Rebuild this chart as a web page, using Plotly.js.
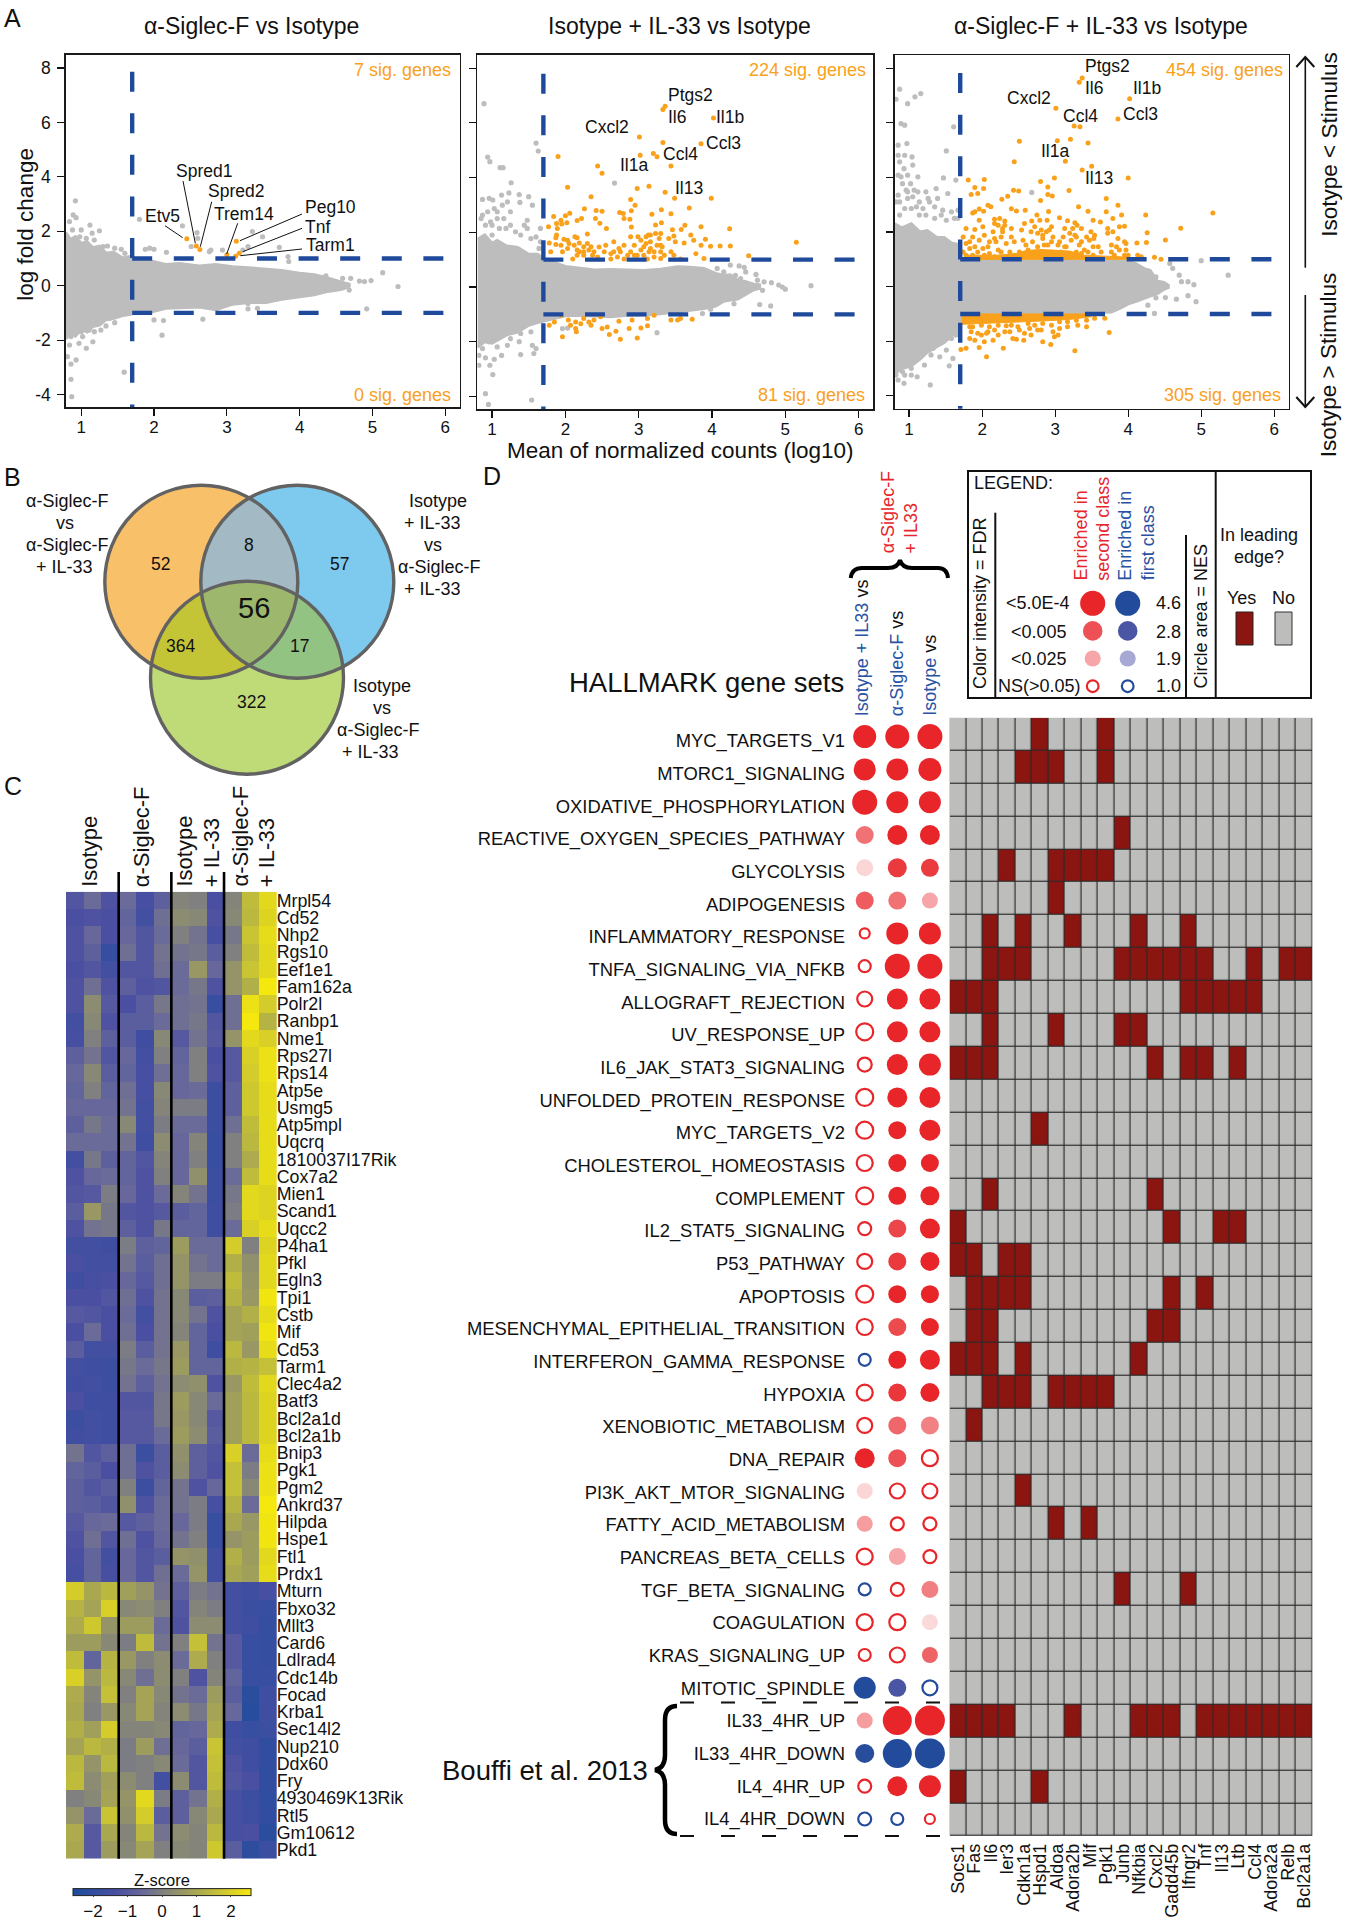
<!DOCTYPE html>
<html><head><meta charset="utf-8">
<script src="https://cdn.plot.ly/plotly-3.0.1.min.js"></script>
<style>html,body{margin:0;padding:0;background:#fff}</style></head>
<body><div id="plot" style="width:1346px;height:1920px"></div>
<script>
// ---------- PANEL A data (mean normalized counts log10, log fold change) ----------
const countCut=1.7, lfcCut=[1,-1];
const a1CloudX=[.79,.85,.92,1.0,1.08,1.16,1.25,1.34,1.45,1.57,1.68,1.8,1.95,2.16,2.35,2.62,2.85,3.08,3.3,3.54,3.75,4.0,4.2,4.36,4.5,4.59,4.68];
const a1CloudUp=[1.95,1.7,1.8,1.55,1.62,1.4,1.45,1.2,1.22,1.02,1.08,.88,.92,.78,.82,.72,.78,.7,.66,.6,.56,.46,.4,.3,.2,.12,.05];
const a1CloudLo=[-1.95,-1.75,-1.85,-1.6,-1.7,-1.5,-1.45,-1.25,-1.2,-1.1,-1.05,-.95,-.98,-.83,-.8,-.78,-.88,-.68,-.62,-.62,-.5,-.4,-.33,-.22,-.17,-.12,-.02];
const a1GrayX=[.92,.89,.93,1.12,1.25,1.15,1.0,.84,1.36,1.46,1.55,1.8,1.88,1.94,2.0,2.17,2.39,2.59,2.51,2.78,2.6,2.76,2.94,3.35,3.49,3.72,3.84,3.85,3.22,3.29,4.36,4.59,4.7,4.82,4.89,4.98,5.14,5.35,4.66,4.68,4.92,3.29,3.29,3.42,2.67,2.0,2.13,2.11,1.59,.86,.93,.86,.87,1.16,1.07,.97,.84,1.18,1.34,1.46,1.27,.86,1.02,.81,.88,.98,1.07,1.18,1.3,1.43,1.6,.86,1.0,1.11,1.25,1.39];
const a1GrayY=[3.12,2.6,2.5,2.23,2.02,1.93,2.05,2.36,1.46,1.38,1.34,2.44,1.34,1.38,1.34,1.23,2.2,1.95,1.44,1.31,1.74,1.25,1.31,1.99,1.8,1.41,1.07,.89,1.31,1.44,.36,.27,.27,.17,.15,.19,.48,-.03,.03,-.16,-.85,-.65,-.85,-.83,-1.23,-1.26,-1.28,-1.82,-3.18,-2.88,-2.73,-3.44,-4.08,-2.06,-2.3,-2.12,-2.18,-1.69,-1.48,-1.36,-1.63,-1.87,-1.87,-2.61,2.05,1.8,1.74,1.68,1.44,1.19,1.19,-1.63,-1.69,-1.63,-1.32,-1.2];
const a1SigX=[2.45,2.58,2.63,3.0,3.13,3.17,3.12];
const a1SigY=[1.73,1.46,1.33,1.14,1.63,1.19,1.08];

const a2CloudX=[.8,.9,1.0,1.07,1.2,1.35,1.5,1.62,1.75,1.85,2.0,2.16,2.4,2.62,2.85,3.07,3.3,3.53,3.7,3.89,4.05,4.16,4.25,4.35,4.45,4.57,4.65];
const a2CloudUp=[1.75,1.9,1.6,1.7,1.5,1.45,1.2,1.2,.95,.9,.75,.7,.62,.64,.62,.6,.65,.74,.72,.68,.5,.42,.45,.25,.2,.1,.08];
const a2CloudLo=[-2.2,-2.0,-2.05,-1.95,-1.75,-1.65,-1.4,-1.3,-1.2,-1.15,-1.05,-1.03,-1.06,-1.09,-1.03,-1.02,-.98,-.91,-.85,-.79,-.7,-.52,-.48,-.44,-.3,-.1,-.05];
const a2GrayX=[.89,.94,.97,1.11,1.15,.87,.96,1.01,1.26,1.23,1.13,1.37,1.5,1.38,1.55,1.6,1.63,2.67,1.03,1.14,1.25,1.07,1.16,1.48,1.44,1.66,.87,1.0,1.25,1.39,1.53,1.66,3.25,4.65,4.8,1.54,.91,.95,1.01,.97,.91,1.03,1.13,1.07,1.39,1.6,1.55,1.57,1.37,1.25,2.03,1.96,5.35,5.0,4.96,4.91,4.81,4.71,4.37,4.44,4.25,4.6,4.62,4.53,4.69,4.46,4.32,4.39,4.07,4.16,3.87,3.98,4.3,.82,.82,.85,.91,.98,1.1,1.19,1.32,1.48,1.6,1.0,.94,1.07,1.21,1.64,.87,.96,1.21,1.39,1.53,.85];
const a2GrayY=[6.7,4.75,4.58,4.36,4.36,3.2,3.24,3.18,3.81,3.44,3.36,3.38,3.3,3.09,2.99,5.26,4.97,3.8,2.87,2.99,2.75,2.5,2.5,2.44,2.26,2.14,2.63,2.26,2.26,1.9,1.77,1.65,-1.67,-.64,-.69,-4.13,-3.9,-4.29,-3.2,-2.86,-2.59,-2.64,-2.5,-2.19,-2.47,-2.25,-2.13,-2.43,-2.0,-1.89,-1.5,-1.52,.05,-.08,0,.07,.16,.19,.77,.72,.8,.46,.25,.07,-.12,.55,.43,.31,.68,.55,-.97,-.81,-.61,-2.5,-2.86,2.5,2.26,2.38,2.14,2.14,2.02,2.14,1.83,1.9,2.75,2.75,3.11,1.41,-2.25,-2.0,-2.13,-1.7,-1.64,-1.89];
const a2SigX=[3.36,3.33,4.02,3.01,3.33,3.85,3.02,3.2,3.25,1.9,2.44,2.5,3.44,2.03,2.98,3.14,3.36,3.49,3.99,2.35,2.89,2.95,3.69,2.26,2.42,2.5,2.74,2.79,2.9,3.31,3.18,3.44,1.84,2.06,2.0,1.94,2.22,2.41,2.8,2.88,2.47,1.88,1.95,2.02,1.77,1.89,2.16,2.56,2.9,3.31,3.23,3.63,3.58,3.85,4.24,3.23,3.46,3.13,3.3,1.88,2.89,2.99,3.16,3.71,3.48,1.87,1.98,2.03,2.13,2.3,2.16,2.3,2.25,2.19,2.05,1.87,1.78,2.03,2.16,2.46,2.55,2.66,2.8,2.94,3.1,3.25,3.41,3.5,3.62,3.75,3.85,3.91,3.98,4.11,4.25,5.15,4.5,3.78,3.89,2.16,2.37,2.53,2.71,2.85,2.98,3.14,3.3,3.44,3.57,2.1,2.62,2.8,3.12,3.3,1.8,2.39,2.62,2.75,2.94,3.07,3.21,3.35,2.44,2.35,3.07,3.16,3.3,2.19,1.94,2.25,2.66,2.73,2.89,3.03,3.21,3.32,3.48,3.16,3.28,3.1,3.03,2.25,2.32,2.12,1.96,
 1.78,1.85,1.94,1.96,2.04,2.14,2.15,2.25,2.32,2.39,2.48,2.5,2.57,2.6,2.69,2.73,2.75,2.87,2.91,2.98,3.03,3.12,3.12,3.44,3.53,3.73,3.57,3.21,2.07,2.21,2.14,2.35];
const a2SigY=[6.61,6.49,6.18,5.48,5.28,5.24,4.82,4.88,4.76,4.77,4.42,4.16,4.42,3.65,3.6,3.68,3.46,3.24,3.24,3.3,3.2,2.99,2.89,2.86,2.8,2.77,2.72,2.69,2.79,2.82,2.66,2.68,2.58,2.7,2.6,2.44,2.5,2.5,2.5,2.48,2.33,2.32,2.3,2.35,2.2,2.14,2.43,2.14,2.19,2.35,2.27,2.26,2.1,2.2,2.13,1.96,2.09,1.9,1.96,1.9,1.84,1.84,1.9,1.9,1.86,1.8,1.75,1.71,1.84,1.94,1.8,1.59,1.47,1.61,1.59,1.55,1.61,1.41,1.35,1.46,1.53,1.65,1.53,1.53,1.59,1.53,1.77,1.65,1.61,1.71,1.53,1.75,1.49,1.5,1.5,1.64,1.14,1.22,1.04,1.16,1.16,1.29,1.1,1.16,1.16,1.29,1.29,1.29,1.02,1.02,1.02,1.02,1.02,1.04,1.29,1.29,1.22,1.29,1.16,1.16,1.1,1.16,1.1,1.47,1.47,1.41,1.53,1.29,1.53,1.16,1.29,1.41,1.29,1.35,1.29,1.47,1.16,1.65,1.77,1.84,1.71,1.29,1.35,1.53,1.29,
 -1.4,-1.28,-1.03,-1.82,-1.21,-1.28,-1.64,-1.15,-1.28,-1.21,-1.09,-1.52,-1.46,-1.74,-1.62,-1.25,-1.91,-1.52,-1.21,-1.86,-1.5,-1.42,-1.15,-1.21,-1.21,-1.18,-1.15,-1.03,-1.4,-1.34,-1.52,-1.4];

const a3CloudX=[.8,.9,1.03,1.15,1.25,1.38,1.48,1.58,1.66,1.71,1.9,2.17,2.6,3.08,3.5,3.77,3.9,4.0,4.1,4.22,4.3,4.4,4.49,4.55];
const a3CloudUp=[2.3,2.15,2.3,2.0,2.05,1.8,1.8,1.6,1.55,1.02,.97,.96,.95,.96,.96,.96,.95,.9,.85,.66,.6,.2,.15,.05];
const a3CloudLo=[-3.2,-3.0,-2.9,-2.65,-2.4,-2.2,-2.05,-1.8,-1.66,-1.2,-1.0,-.99,-.99,-.99,-.96,-.93,-.78,-.63,-.55,-.44,-.35,-.26,-.1,-.03];
const a3GrayX=[.87,1.16,1.08,.98,.82,.89,.94,1.61,.85,.97,1.51,1.04,.87,1.05,.93,1.64,1.47,2.68,.89,1.02,1.12,1.12,.96,.87,.98,1.26,1.37,1.53,1.39,1.67,1.67,1.44,1.19,1.23,1.03,5.37,4.9,4.82,4.73,4.93,4.82,4.66,4.51,4.38,4.7,4.61,4.57,4.36,4.27,5.0,1.6,1.55,1.29,1.42,1.21,1.11,1.03,.93,.85,.91,1.51,4.45,4.38,.85,.91,.98,1.05,1.14,1.23,1.28,1.1,.94,.87,1.35,1.46,1.58,1.62,1.51,1.35,1.14,.85,.94,1.07,.98,.85,.82,1.07,.96,.87,1.19,1.33,1.46,1.58,1.64,1.3,1.03,.94,.82];
const a3GrayY=[7.23,7.07,6.95,6.7,6.86,5.97,5.91,5.85,5.18,5.24,4.97,4.75,4.57,4.45,4.32,3.9,3.98,3.45,4.02,3.77,4.02,3.47,3.53,3.1,3.23,3.23,3.59,3.41,3.23,2.8,2.5,2.62,2.86,2.62,2.86,.42,.07,.18,.18,-.55,-.33,-.46,-.4,-.41,.42,.67,.85,-.98,-.68,.95,-2.63,-2.9,-3.6,-2.57,-2.87,-3.3,-2.99,-3.54,-3.42,-3.12,-2.32,.12,.36,4.08,3.77,3.47,3.29,3.1,3.47,3.1,2.92,2.86,2.62,2.92,2.8,2.74,2.5,2.43,2.5,2.62,4.81,4.81,3.53,4.08,3.35,3.1,-2.5,-2.75,-2.87,-2.38,-2.26,-2.02,-1.9,-1.77,-2.5,-3.24,-3.24,-3.24];
const a3SigX=[3.37,3.33,4.02,3.01,3.86,3.26,3.34,2.51,3.03,3.21,3.45,2.44,3.14,3.5,3.37,4.0,1.81,2.03,2.99,2.8,1.9,2.02,2.9,2.43,2.5,3.19,1.85,1.94,2.35,2.27,2.9,2.96,2.8,3.7,3.86,3.32,2.12,1.96,2.02,1.87,2.4,2.47,2.59,2.91,3.45,3.7,3.91,4.24,5.16,1.9,2.08,1.96,2.75,2.17,2.24,2.31,2.79,2.89,3.06,3.17,3.27,3.52,3.62,3.79,2.4,2.58,2.68,2.31,2.17,2.01,1.9,1.78,3.88,3.95,4.26,4.72,4.51,4.25,4.12,3.97,3.86,3.72,3.54,3.36,3.27,3.13,2.95,2.81,2.67,2.54,2.4,2.28,2.15,2.03,1.87,1.74,1.83,1.96,2.19,2.33,2.44,2.56,2.69,2.83,2.97,3.11,3.22,3.33,3.47,3.59,3.77,3.88,3.97,3.81,1.83,1.94,2.08,2.22,2.38,2.51,2.63,2.76,2.9,3.04,3.15,3.29,3.45,3.63,4.36,4.45,1.78,2.03,2.17,2.31,2.44,2.72,2.95,3.13,3.52,
 2.22,2.28,2.26,2.17,2.1,2.01,1.9,1.78,1.74,1.87,1.96,2.1,2.26,2.6,2.65,2.81,2.85,2.95,2.88,2.92,2.83,2.76,2.72,3.06,3.13,3.2,3.24,3.3,3.29,3.36,3.43,3.49,3.53,3.4,3.52,3.54,3.77,3.84,3.72,3.79,3.95,3.95,4.13,4.18,4.0,2.99,3.08,3.22,3.36,
 2.06,1.71,1.78,2.29,3.27,3.74,2.83,2.94,2.99,2.47,2.57,1.96,1.9,2.03,2.15,1.85,1.94,2.08,2.17,2.31,2.58,2.76,2.97,3.06,2.65,1.83,2.4,3.17,3.31,3.43,3.68,3.54,1.78,
 1.87,1.99,2.1,2.22,2.33,2.49,2.63,2.72,2.83,2.95,3.06,3.17,3.29,3.43,1.99,2.06,2.22,2.38,2.51,2.67,3.04,2.81,1.83,2.42];
const a3SigY=[7.64,7.48,6.88,6.53,6.14,5.88,5.85,5.32,5.34,5.4,5.26,4.57,4.59,4.41,4.27,3.98,3.9,3.92,3.98,3.85,3.63,3.59,3.65,3.53,3.5,3.52,3.37,3.41,3.31,3.2,3.37,3.32,3.15,3.23,2.98,2.92,2.92,2.84,2.76,2.7,2.85,2.77,2.8,2.75,2.76,2.74,2.62,2.62,2.7,2.74,2.98,2.43,2.62,2.47,2.49,2.4,2.43,2.43,2.52,2.41,2.34,2.43,2.37,2.49,2.13,2.31,2.4,2.25,2.31,2.19,2.09,2.13,2.19,2.21,1.97,2.14,1.71,1.62,1.6,1.58,1.76,1.95,1.88,2.13,1.88,2.13,2.19,2.07,2.01,2.07,1.82,2.01,2.01,1.88,1.82,1.82,1.64,1.7,1.64,1.58,1.64,1.7,1.64,1.76,1.82,1.82,1.7,1.52,1.7,1.46,1.52,1.34,1.34,1.15,1.4,1.27,1.46,1.34,1.27,1.27,1.34,1.46,1.52,1.52,1.46,1.27,1.27,1.27,1.08,1.0,1.15,1.15,1.09,1.09,1.15,1.15,1.27,1.21,1.15,
 2.25,2.13,1.82,1.76,1.64,1.4,1.46,1.58,1.27,1.15,1.03,1.21,1.27,1.52,1.21,1.27,1.52,1.64,2.01,2.07,1.88,1.95,2.19,1.64,1.46,1.95,2.13,2.25,1.82,1.64,1.82,2.01,1.76,1.34,1.46,1.03,1.27,1.46,2.13,2.01,1.64,1.15,1.15,1.09,1.15,1.15,1.27,1.15,1.21,
 -2.57,-2.3,-2.26,-2.26,-2.35,-1.68,-2.02,-2.12,-1.84,-1.93,-1.96,-2.23,-1.96,-2.02,-1.96,-1.65,-1.71,-1.65,-1.59,-1.65,-1.71,-1.59,-1.65,-1.53,-1.53,-1.47,-1.41,-1.47,-1.41,-1.47,-1.16,-1.16,-1.29,
 -1.47,-1.41,-1.47,-1.41,-1.43,-1.47,-1.35,-1.41,-1.35,-1.41,-1.29,-1.29,-1.23,-1.23,-1.77,-1.71,-1.77,-1.65,-1.59,-1.77,-1.77,-1.59,-1.9,-1.9];
const a3DenseUpX=[1.75,2.2,2.45,2.6,2.8,3.0,3.2,3.4,3.7,4.0];
const a3DenseUpTop=[1.15,1.15,1.2,1.32,1.36,1.32,1.3,1.15,1.12,1.08];
const a3DenseLoX=[1.72,2.0,2.3,2.6,2.9,3.2,3.5];
const a3DenseLoBot=[-1.38,-1.35,-1.33,-1.28,-1.25,-1.2,-1.1];

// ---------- PANEL C data ----------
const heatGenes=["Mrpl54","Cd52","Nhp2","Rgs10","Eef1e1","Fam162a","Polr2l","Ranbp1","Nme1","Rps27l","Rps14","Atp5e","Usmg5","Atp5mpl","Uqcrq","1810037I17Rik","Cox7a2","Mien1","Scand1","Uqcc2","P4ha1","Pfkl","Egln3","Tpi1","Cstb","Mif","Cd53","Tarm1","Clec4a2","Batf3","Bcl2a1d","Bcl2a1b","Bnip3","Pgk1","Pgm2","Ankrd37","Hilpda","Hspe1","Ftl1","Prdx1","Mturn","Fbxo32","Mllt3","Card6","Ldlrad4","Cdc14b","Focad","Krba1","Sec14l2","Nup210","Ddx60","Fry","4930469K13Rik","Rtl5","Gm10612","Pkd1"];
const zscores=[
[-1.1,-.5,-1.2,-.5,-1.4,-.8,.1,0,-1.3,.1,1.5,2.2],
[-1.3,-1.2,-1.3,-.7,-1.5,-.4,.3,.2,-1.2,.2,1.4,2.1],
[-1.2,-.6,-1.3,-.6,-1.1,-.5,0,-.3,-1.4,-.2,1.7,2.3],
[-1.2,-.8,-1.9,-.4,-1.1,-.3,-.3,-.2,-.9,0,1.5,2.2],
[-1.3,-1.1,-1.5,-1.1,-1.1,-.4,-.5,.6,-.6,.5,1.7,2.2],
[-1.2,-.4,-1.2,-.8,-1.2,-1.1,-.5,-.2,-1.2,.5,1.2,2.6],
[-1.2,.3,-1.0,-1.3,-.9,-.2,-.4,-.3,-1.8,-.4,2.4,1.9],
[-1.5,.2,-1.2,-.9,-.9,-.5,-.4,-.2,-1.1,-.4,2.6,1.3],
[-1.4,0,-.8,-.9,-1.6,.2,-1.0,-.3,-1.0,.5,2.2,2.0],
[-.8,-.3,-1.1,-.6,-1.5,0,-.7,0,-1.3,-1.0,2.0,2.4],
[-.6,.2,-.9,-.7,-1.4,-.4,-.6,0,-1.2,-1.0,1.9,2.4],
[-.7,0,-.7,-.4,-1.4,.2,-.6,-.5,-1.7,-.8,1.8,2.3],
[-.6,-.6,-.6,-.3,-1.5,.1,-.1,-.1,-1.7,-.8,1.8,2.3],
[-.8,-.2,-.5,.2,-1.5,-.1,-.5,-.5,-1.7,-.4,1.5,2.3],
[-.5,-.5,-.5,-.3,-1.6,.3,-.6,.1,-1.8,0,1.4,2.3],
[-1.5,-.2,-.8,-.7,-1.1,.1,-.6,0,-1.8,0,1.1,2.3],
[-1.2,-.6,-.5,-.7,-1.2,0,-.6,.4,-1.7,-.5,1.5,2.3],
[-1.1,-1.0,-.1,-.6,-1.2,-.5,.1,-.3,-1.7,-.2,2.2,2.1],
[-.9,.6,-.2,-1.1,-1.2,-1.0,-.9,-.7,-1.6,-.1,2.2,2.1],
[-1.2,-.3,-.2,-.8,-1.2,-.2,-.7,-.7,-1.6,-.5,2.0,2.3],
[-1.5,-1.5,-1.6,-.1,-.8,-.7,.7,-.5,-.5,1.9,0,2.1],
[-1.3,-1.5,-1.5,-.3,-.9,-.4,.5,-.3,-.5,1.2,.4,2.2],
[-1.6,-1.4,-1.3,-.6,-1.0,-.4,.5,-.1,-.1,1.5,.5,2.2],
[-1.3,-1.3,-1.1,-.4,-1.2,-.3,.2,-.9,-.8,1.3,.6,2.5],
[-1.0,-1.1,-1.3,-.5,-1.5,-.3,.2,-.3,-1.2,.9,1.2,2.3],
[-1.3,-.5,-1.3,-.4,-1.3,-.3,.1,-.7,-1.3,.9,.8,2.5],
[-.9,-1.5,-1.5,-.1,-.9,-.3,.6,-.7,-1.6,1.4,.6,2.3],
[-1.5,-1.6,-1.7,-.2,-.5,-.2,.7,-.7,-.7,1.2,1.3,1.6],
[-1.6,-1.5,-1.7,-.3,-.8,-.3,.3,.4,-1.2,.6,1.5,2.2],
[-1.3,-1.6,-1.6,-1.1,-1.1,-.2,.7,.2,-.5,.8,1.4,2.1],
[-1.7,-1.5,-1.6,-1.0,-1.0,-.2,.6,.2,-1.0,.8,1.4,2.1],
[-1.6,-1.5,-1.6,-1.0,-1.0,-.5,.7,.3,-.9,.8,1.4,2.1],
[-.3,-1.1,-.8,-.4,-1.7,-.9,.4,-.8,-1.1,2.0,-.5,2.3],
[-.7,-.9,-1.3,-.4,-1.2,-.9,.3,-.8,-1.2,1.6,-.1,2.4],
[-.8,-1.1,-.9,0,-1.7,-.7,-.3,-1.2,-.6,1.6,.2,2.4],
[-.8,-.9,-1.1,.4,-1.2,-.5,-.3,-.1,-1.4,1.3,-.5,2.7],
[-1.0,-.6,-.5,-1.0,-.8,-.5,-.6,-.1,-1.8,1.0,.6,2.5],
[-1.2,-.4,-1.1,-.4,-1.2,-.6,-.3,0,-1.8,.5,.7,2.5],
[-1.3,-.7,-1.5,-.6,-1.1,-.9,.5,.4,-1.5,1.2,.7,2.2],
[-1.4,-.7,-1.4,-.6,-1.1,-.4,-.5,.5,-1.5,1.0,.8,2.3],
[1.9,1.0,1.4,.8,.5,-.3,-.8,-.1,-.3,-1.5,-1.6,-1.4],
[1.3,.9,2.0,.2,.3,0,-1.1,.1,-.1,-1.5,-1.7,-1.8],
[1.1,1.8,.5,.7,.7,-.5,-1.2,.3,.3,-1.5,-1.6,-1.9],
[.7,.7,.2,-.1,1.5,-.3,0,1.6,-.3,-1.0,-1.8,-1.9],
[1.5,-.7,1.3,.6,0,.3,-.5,1.1,0,-1.0,-1.8,-1.9],
[2.0,.5,1.4,.2,-.4,.3,0,-1.2,.1,-.7,-1.8,-1.8],
[1.1,.1,1.6,0,.9,.2,-.3,-.5,.7,-.9,-2.2,-1.6],
[1.0,0,.6,.2,.9,.1,.3,-.2,.9,-.6,-2.3,-1.6],
[1.2,.8,1.9,.1,.1,.2,-.7,-.6,1.1,-1.6,-1.8,-1.7],
[.9,1.4,1.2,-.1,.7,-.4,-.6,-.9,1.7,-1.5,-1.6,-2.0],
[1.4,.5,1.4,-.1,0,.2,-.5,-1.1,1.6,-1.2,-1.6,-2.0],
[1.5,.3,.8,.3,0,-1.5,.3,-1.1,1.5,-1.1,-1.3,-2.0],
[0,.2,.9,.5,2.2,-.1,-.8,-.3,1.2,-1.4,-1.7,-2.0],
[.5,-.5,1.7,.4,1.9,-.9,-.8,.2,1.0,-1.4,-1.6,-2.0],
[1.1,-1.0,1.0,.1,1.4,-.3,.3,.1,1.4,-1.4,-1.3,-2.2],
[1.0,-1.0,.7,.2,.9,0,.2,.1,1.8,-.9,-2.1,-1.7]];
const heatColumns=[0,1,2,3,4,5,6,7,8,9,10,11];
const heatGroupBreaks=[2.5,5.5,8.5];

// ---------- PANEL D data ----------
const geneSets=["MYC_TARGETS_V1","MTORC1_SIGNALING","OXIDATIVE_PHOSPHORYLATION","REACTIVE_OXYGEN_SPECIES_PATHWAY","GLYCOLYSIS","ADIPOGENESIS","INFLAMMATORY_RESPONSE","TNFA_SIGNALING_VIA_NFKB","ALLOGRAFT_REJECTION","UV_RESPONSE_UP","IL6_JAK_STAT3_SIGNALING","UNFOLDED_PROTEIN_RESPONSE","MYC_TARGETS_V2","CHOLESTEROL_HOMEOSTASIS","COMPLEMENT","IL2_STAT5_SIGNALING","P53_PATHWAY","APOPTOSIS","MESENCHYMAL_EPITHELIAL_TRANSITION","INTERFERON_GAMMA_RESPONSE","HYPOXIA","XENOBIOTIC_METABOLISM","DNA_REPAIR","PI3K_AKT_MTOR_SIGNALING","FATTY_ACID_METABOLISM","PANCREAS_BETA_CELLS","TGF_BETA_SIGNALING","COAGULATION","KRAS_SIGNALING_UP","MITOTIC_SPINDLE","IL33_4HR_UP","IL33_4HR_DOWN","IL4_4HR_UP","IL4_4HR_DOWN"];
// NES (negative = enriched in first class), per comparison
const nesIsoIL33=[3.86,3.54,4.57,2.37,2.11,2.37,.73,1.05,1.64,2.11,1.43,2.11,2.11,1.87,2.11,1.23,1.64,2.11,1.87,-1.05,1.87,1.64,2.92,1.87,1.87,1.87,-1.05,1.87,1.05,-3.54,1.87,-2.64,1.23,-1.23];
const nesSiglec=[4.21,3.54,3.54,2.92,2.64,2.37,3.54,4.57,3.22,3.22,3.22,2.92,2.37,2.37,2.37,2.37,2.37,2.37,2.37,2.37,2.37,2.37,2.37,1.64,1.23,2.11,1.23,1.87,1.64,-2.37,6.14,-6.14,2.92,-1.05];
const nesIso=[4.57,3.86,3.54,2.92,2.37,1.87,3.54,4.57,3.22,3.22,3.54,3.22,3.22,2.37,2.64,2.92,2.64,2.37,2.37,2.92,2.64,2.37,1.87,1.64,1.23,1.23,2.11,1.87,1.87,-1.64,6.57,-6.57,3.54,.73];
// colour intensity from FDR, 0 = not significant
const fdrIsoIL33=[1,1,1,.65,.19,.75,0,0,0,0,0,0,0,0,0,0,0,0,0,0,0,0,1,.19,.45,0,0,0,0,1,.45,.97,0,0];
const fdrSiglec=[1,1,1,1,.91,.65,1,1,1,1,1,1,1,1,1,.85,.91,1,.83,1,.92,.7,.8,0,0,.41,0,0,0,.8,1,1,1,0];
const fdrIso=[1,1,1,1,.9,.41,1,1,1,1,1,1,1,1,1,1,1,1,1,1,1,.58,0,0,0,0,.59,.18,.72,0,1,1,1,0];
const edgeGenes=["Socs1","Fas","Il6","Ier3","Cdkn1a","Hspd1","Aldoa","Adora2b","Mif","Pgk1","Junb","Nfkbia","Cxcl2","Gadd45b","Ifngr2","Tnf","Il13","Ltb","Ccl4","Adora2a","Relb","Bcl2a1a"];
const leadingEdge=[[5,9],[4,5,6,9],[],[10],[3,6,7,8,9],[6],[2,4,7,11,14],[2,3,4,10,11,12,13,14,15,18,20,21],[0,1,2,14,15,16,17,18],[2,6,10,11],[0,1,2,12,14,15,17],[],[5],[],[2,12],[0,13,16,17],[0,1,3,4],[1,2,3,4,13,15],[1,2,12,13],[0,1,2,4,11],[2,3,4,6,7,8,9],[1],[],[4],[6,8],[],[10,14],[],[],[],[0,1,2,3,7,11,12,13,15,16,17,18,19,20,21],[],[0,5],[]];
const legendNES=[4.6,2.8,1.9,1.0];
const legendFDR=[1,.8,.41,0];
const legendFDRLabels=["<5.0E-4","<0.005","<0.025","NS(>0.05)"];

// ---------- styling ----------
const FONT="Liberation Sans, Arial, sans-serif";
const W=1346,H=1920;
const GRAY="#bdbdbd",ORANGE="#f9a11b",DASH="#1f4a9c",RED="#e8262a",BLUE="#224b9b",TBLUE="#2a52a4";
const domX=(a,b)=>[a/W,b/W], domY=(a,b)=>[1-b/H,1-a/H];
const traces=[],shapes=[],annos=[];
const txt=(t,x,y,o={})=>annos.push(Object.assign({text:t,x,y,xref:'x',yref:'y',showarrow:false,xanchor:'center',yanchor:'middle',borderpad:0,
  font:{family:FONT,size:o.size||18,color:o.color||'#111'}},o.angle!==undefined?{textangle:o.angle}:{},o.xa?{xanchor:o.xa}:{},o.ya?{yanchor:o.ya}:{}));
const seg=(x0,y0,x1,y1,w=1,c='#111')=>shapes.push({type:'line',xref:'x',yref:'y',x0,y0,x1,y1,line:{color:c,width:w}});
const pathS=(p,w,c='#111',fill)=>shapes.push({type:'path',xref:'x',yref:'y',path:p,line:{color:c,width:w},fillcolor:fill||'rgba(0,0,0,0)'});

traces.push({type:'scatter',x:[0],y:[0],mode:'markers',marker:{opacity:0},xaxis:'x',yaxis:'y',hoverinfo:'skip'});

function maPanel(ax,cx,up,lo,gx,gy,sx,sy,dense){
  traces.push({type:'scatter',mode:'lines',x:cx.concat(cx.slice().reverse()),y:up.concat(lo.slice().reverse()),fill:'toself',fillcolor:GRAY,line:{color:GRAY,width:3},xaxis:'x'+ax,yaxis:'y'+ax,hoverinfo:'skip'});
  traces.push({type:'scatter',mode:'markers',x:gx,y:gy,marker:{size:5.2,color:GRAY},xaxis:'x'+ax,yaxis:'y'+ax,hoverinfo:'skip'});
  if(dense){dense.forEach(d=>traces.push({type:'scatter',mode:'lines',x:d[0].concat(d[0].slice().reverse()),y:d[1].concat(d[2].slice().reverse()),fill:'toself',fillcolor:ORANGE,line:{color:ORANGE,width:1},xaxis:'x'+ax,yaxis:'y'+ax,hoverinfo:'skip'}));}
  traces.push({type:'scatter',mode:'markers',x:sx,y:sy,marker:{size:5,color:ORANGE},xaxis:'x'+ax,yaxis:'y'+ax,hoverinfo:'skip'});
  const ln={color:DASH,width:4.4,dash:'20px,21.6px'};
  lfcCut.forEach(v=>traces.push({type:'scatter',mode:'lines',x:[countCut,6.4],y:[v,v],line:ln,xaxis:'x'+ax,yaxis:'y'+ax,hoverinfo:'skip'}));
  traces.push({type:'scatter',mode:'lines',x:[countCut,countCut],y:[-5.1,9],line:ln,xaxis:'x'+ax,yaxis:'y'+ax,hoverinfo:'skip'});
}
maPanel(2,a1CloudX,a1CloudUp,a1CloudLo,a1GrayX,a1GrayY,a1SigX,a1SigY);
maPanel(3,a2CloudX,a2CloudUp,a2CloudLo,a2GrayX,a2GrayY,a2SigX,a2SigY);
maPanel(4,a3CloudX,a3CloudUp,a3CloudLo,a3GrayX,a3GrayY,a3SigX,a3SigY,[
  [a3DenseUpX,a3DenseUpTop,a3DenseUpX.map(()=>1)],[a3DenseLoX,a3DenseLoX.map(()=>-1),a3DenseLoBot]]);

const heatScale=[[0,'#1d4c9d'],[.25,'#4a4fa2'],[.4,'#6a6a9a'],[.5,'#808080'],[.75,'#b5b344'],[1,'#f5e80e']];
traces.push({type:'heatmap',z:zscores,x:heatColumns,y:heatGenes,colorscale:heatScale,zmin:-2.58,zmax:2.58,xaxis:'x5',yaxis:'y5',hoverinfo:'skip',
  colorbar:{orientation:'h',x:73/W,xanchor:'left',y:1-1922.5/H,yanchor:'bottom',len:178,lenmode:'pixels',thickness:7,thicknessmode:'pixels',xpad:0,ypad:0,
    tickvals:[-2,-1,0,1,2],ticks:'outside',ticklen:1,tickfont:{family:FONT,size:17,color:'#111'},outlinewidth:1,outlinecolor:'#222'}});
txt('Z-score',162,1879.5,{size:16.5});
heatGroupBreaks.forEach(b=>shapes.push({type:'line',xref:'x5',yref:'paper',x0:b,x1:b,y0:1-872/H,y1:1-1858.7/H,line:{color:'#000',width:2.6}}));

const edgeZ=geneSets.map((s,i)=>edgeGenes.map((g,j)=>leadingEdge[i].includes(j)?1:0));
traces.push({type:'heatmap',z:geneSets.map(()=>edgeGenes.map(()=>0)),x:edgeGenes,y:geneSets,colorscale:[[0,'#2b2b2b'],[1,'#2b2b2b']],showscale:false,xaxis:'x7',yaxis:'y7',hoverinfo:'skip'});
traces.push({type:'heatmap',z:edgeZ,x:edgeGenes,y:geneSets,xgap:1.2,ygap:1.2,colorscale:[[0,'#bdbdbb'],[1,'#8b1510']],zmin:0,zmax:1,showscale:false,xaxis:'x7',yaxis:'y7',hoverinfo:'skip'});

const dotX=[],dotY=[],dotNES=[],dotF=[];
[nesIsoIL33,nesSiglec,nesIso].forEach((arr,c)=>{const f=[fdrIsoIL33,fdrSiglec,fdrIso][c];arr.forEach((v,r)=>{dotX.push(c);dotY.push(r);dotNES.push(v);dotF.push(f[r]);});});
function dotTrace(xa,ya,xs,ys,ns,fs,sign,sig,col,scale){
  const idx=ns.map((n,i)=>i).filter(i=>(ns[i]>0)===(sign>0)&&(fs[i]>0)===sig);
  const m={size:idx.map(i=>Math.abs(ns[i])),sizemode:'area',sizeref:2/136.9,sizemin:1,opacity:1};
  if(sig){m.color=idx.map(i=>fs[i]);m.cmin=0;m.cmax=1;m.colorscale=scale;m.line={width:0};}
  else{m.color='#fff';m.line={color:col,width:2.2};}
  traces.push({type:'scatter',mode:'markers',x:idx.map(i=>xs[i]),y:idx.map(i=>ys[i]),marker:m,cliponaxis:false,xaxis:xa,yaxis:ya,hoverinfo:'skip'});
}
const redScale=[[0,'#ffffff'],[1,RED]], blueScale=[[0,'#ffffff'],[.41,'#a7a8d3'],[.8,'#4a55a3'],[1,BLUE]];
// invisible carrier for the gene-set label axis (drawn first, so the dots stay on top)
traces.push({type:'scatter',mode:'markers',x:[0],y:[0],marker:{opacity:0},xaxis:'x9',yaxis:'y9',hoverinfo:'skip'});
[[1,true,RED,redScale],[-1,true,BLUE,blueScale],[1,false,RED,redScale],[-1,false,BLUE,blueScale]].forEach(a=>dotTrace('x6','y6',dotX,dotY,dotNES,dotF,a[0],a[1],a[2],a[3]));
const lgX=[],lgY=[],lgN=[],lgF=[];
[1,-1].forEach((s,c)=>legendNES.forEach((n,r)=>{lgX.push(c);lgY.push(r);lgN.push(n*s);lgF.push(legendFDR[r]);}));
[[1,true,RED,redScale],[-1,true,BLUE,blueScale],[1,false,RED,redScale],[-1,false,BLUE,blueScale]].forEach(a=>dotTrace('x8','y8',lgX,lgY,lgN,lgF,a[0],a[1],a[2],a[3]));

[['A',3,18],['B',3,477],['C',3,786],['D',482,476]].forEach(a=>txt(a[0],a[1],a[2],{size:25,xa:'left'}));
txt('α-Siglec-F vs Isotype',251,26,{size:23});
txt('Isotype + IL-33 vs Isotype',679,26,{size:23});
txt('α-Siglec-F + IL-33 vs Isotype',1100.6,26,{size:23});
txt('log fold change',26,224.7,{size:22.5,angle:-90});
txt('Mean of normalized counts (log10)',679.5,450.5,{size:22.5});
[['7 sig. genes',452,69.5],['0 sig. genes',452,394.7],['224 sig. genes',867,69.5],['81 sig. genes',866,394.7],['454 sig. genes',1284,69.5],['305 sig. genes',1282,394.7]]
  .forEach(a=>txt(a[0],a[1],a[2],{color:ORANGE,xa:'right'}));
[['Etv5',162,215.7],['Spred1',204,171],['Spred2',236,191],['Trem14',243.7,214],['Peg10',330.3,207.3],['Tnf',317.7,227.3],['Tarm1',330.3,245],
 ['Ptgs2',690.7,95],['Il6',677,117],['Il1b',730.3,117.3],['Cxcl2',607.3,127],['Ccl3',723.7,143.3],['Ccl4',680.3,154.3],['Il1a',634.3,165.3],['Il13',689.3,188.3],
 ['Ptgs2',1107.7,66],['Il6',1094,88],['Il1b',1147.3,88.3],['Cxcl2',1029,97.7],['Ccl4',1080.3,116.3],['Ccl3',1140.7,114],['Il1a',1055.3,151],['Il13',1099,178.3]]
 .forEach(a=>txt(a[0],a[1],a[2],{size:17.5}));
[[165,225.7,182.7,237.7],[183,181,195.3,243.3],[211.7,201.7,200.3,246.7],[237.7,223.3,226.7,254],[302,214,240,240.7],[302,228.3,242.7,251.7],[302,249,240.3,255.7]].forEach(l=>seg(l[0],l[1],l[2],l[3],1));
txt('Isotype < Stimulus',1328.7,145,{size:22.5,angle:-90});
txt('Isotype > Stimulus',1328.7,365.5,{size:22.5,angle:-90});
seg(1305.3,57,1305.3,267.7,1.6); pathS('M1296.3 67 L1305.3 57 L1314.3 67',2);
seg(1305.3,295,1305.3,407,1.6); pathS('M1296.3 397 L1305.3 407 L1314.3 397',2);

const cO=[201.3,581.7],cB=[297.3,581.7],cG=[247,677.7],vr=96.5;
const circ=(c,fill)=>shapes.push({type:'circle',xref:'x',yref:'y',x0:c[0]-vr,x1:c[0]+vr,y0:c[1]-vr,y1:c[1]+vr,fillcolor:fill,line:{width:0}});
circ(cO,'#f9c06a');circ(cB,'#7ec9ee');circ(cG,'#bfdb78');
function region(cs,fill){
  const p=[cs.reduce((s,c)=>s+c[0],0)/cs.length,cs.reduce((s,c)=>s+c[1],0)/cs.length];let d='';
  for(let k=0;k<240;k++){const a=k/240*2*Math.PI,ux=Math.cos(a),uy=Math.sin(a);let t=1e9;
    cs.forEach(c=>{const dx=p[0]-c[0],dy=p[1]-c[1],b=dx*ux+dy*uy,q=dx*dx+dy*dy-vr*vr;t=Math.min(t,-b+Math.sqrt(b*b-q));});
    d+=(k?'L':'M')+(p[0]+t*ux).toFixed(2)+' '+(p[1]+t*uy).toFixed(2)+' ';}
  shapes.push({type:'path',xref:'x',yref:'y',path:d+'Z',fillcolor:fill,line:{width:0}});
}
region([cO,cB],'#a3b9c3');region([cO,cG],'#c4c437');region([cB,cG],'#93c382');region([cO,cB,cG],'#9db76c');
[cO,cB,cG].forEach(c=>shapes.push({type:'circle',xref:'x',yref:'y',x0:c[0]-vr,x1:c[0]+vr,y0:c[1]-vr,y1:c[1]+vr,fillcolor:'rgba(0,0,0,0)',line:{color:'#626262',width:3.4}}));
[['52',160.7,564.3,17.5],['8',249.3,545.3,17.5],['57',339.3,564.3,17.5],['56',254.3,608.3,29],['364',180.3,646,17.5],['17',299,646,17.5],['322',251.3,701.7,17.5]].forEach(a=>txt(a[0],a[1],a[2],{size:a[3]}));
[['α-Siglec-F',67,500.7],['vs',65,522.7],['α-Siglec-F',67,545],['+ IL-33',64,566.7],
 ['Isotype',438.3,500.7],['+ IL-33',432.7,522.7],['vs',433,545],['α-Siglec-F',439,567],['+ IL-33',432.7,589],
 ['Isotype',381.7,686],['vs',381.7,708],['α-Siglec-F',378,730],['+ IL-33',370.7,751.7]].forEach(a=>txt(a[0],a[1],a[2],{size:18}));

[['Isotype',89.3],['α-Siglec-F',141.7],['Isotype',184],['+ IL-33',211.7],['α-Siglec-F',240],['+ IL-33',266.7]].forEach(a=>txt(a[0],a[1],888,{size:22,angle:-90,ya:'bottom'}));

txt('HALLMARK gene sets',845,682,{size:27.5,xa:'right'});
txt('Bouffi et al. 2013',649,1770.5,{size:27.5,xa:'right'});
txt('<span style="color:'+TBLUE+'">Isotype + IL33</span> vs',861.7,717,{size:18,angle:-90,ya:'bottom'});
txt('<span style="color:'+TBLUE+'">α-Siglec-F</span> vs',896.7,717,{size:18,angle:-90,ya:'bottom'});
txt('<span style="color:'+TBLUE+'">Isotype</span> vs',929.3,717,{size:18,angle:-90,ya:'bottom'});
txt('α-Siglec-F',888,554.3,{size:18,color:RED,angle:-90,ya:'bottom'});
txt('+ IL33',910.7,554.3,{size:18,color:RED,angle:-90,ya:'bottom'});
pathS('M850.7 578 Q852 568 862 568 L888 568 Q898 568 900 560 Q902 568 912 568 L938 568 Q947 568 948 578',4,'#000');
pathS('M677 1706 Q665 1706 665 1720 L665 1755 Q665 1768 655 1770 Q665 1772 665 1785 L665 1820 Q665 1834 677 1834',4.5,'#000');
[1702.5,1836].forEach(y=>traces.push({type:'scatter',mode:'lines',x:[680,940],y:[y,y],line:{color:'#111',width:2.2,dash:'14px,27px'},xaxis:'x',yaxis:'y',hoverinfo:'skip'}));

shapes.push({type:'rect',xref:'x',yref:'y',x0:968,x1:1311,y0:471,y1:698,line:{color:'#111',width:2},fillcolor:'rgba(0,0,0,0)'});
seg(1215.7,471,1215.7,698,2); seg(995.3,512.7,995.3,698,2); seg(1186,535,1186,698,2);
txt('LEGEND:',973,483.3,{xa:'left'});
txt('Color intensity = FDR',980,690,{angle:-90,ya:'bottom'});
txt('Circle area = NES',1200,690,{angle:-90,ya:'bottom'});
txt('Enriched in',1080.7,581.7,{color:RED,angle:-90,ya:'bottom'});
txt('second class',1103,581.7,{color:RED,angle:-90,ya:'bottom'});
txt('Enriched in',1125,581.7,{color:TBLUE,angle:-90,ya:'bottom'});
txt('first class',1148,581.7,{color:TBLUE,angle:-90,ya:'bottom'});
const lgYpx=[603.3,631.7,659,686],lgRight=[1071,1067.7,1067.7,1081.7];
legendFDRLabels.forEach((t,i)=>txt(t,lgRight[i],lgYpx[i],{xa:'right'}));
legendNES.forEach((n,i)=>txt(n.toFixed(1),1182.3,lgYpx[i],{xa:'right'}));
txt('In leading',1259.3,535); txt('edge?',1259.3,557);
txt('Yes',1241.7,598); txt('No',1283,598);
shapes.push({type:'rect',xref:'x',yref:'y',x0:1236,x1:1253,y0:612,y1:645,fillcolor:'#8b1510',line:{color:'#222',width:1}});
shapes.push({type:'rect',xref:'x',yref:'y',x0:1275,x1:1292,y0:612,y1:645,fillcolor:'#bdbdbb',line:{color:'#333',width:1}});

const off={visible:false,showgrid:false,zeroline:false};
const tf={family:FONT,size:17,color:'#111'};
const mx=(d,range,anchor)=>({domain:d,range,anchor,tickmode:'array',tickvals:[1,2,3,4,5,6],ticktext:['1','2','3','4','5','6'],ticks:'outside',ticklen:7,tickwidth:1.2,tickcolor:'#111',showline:true,linewidth:1.6,linecolor:'#1a1a1a',mirror:true,showgrid:false,zeroline:false,tickfont:tf,ticklabelstandoff:-3});
const my=(d,range,anchor,labels)=>({domain:d,range,anchor,tickmode:'array',tickvals:[-4,-2,0,2,4,6,8],ticktext:labels?['-4','-2','0','2','4','6','8']:['','','','','','',''],ticks:'outside',ticklen:7,tickwidth:1.2,tickcolor:'#111',showline:true,linewidth:1.6,linecolor:'#1a1a1a',mirror:true,showgrid:false,zeroline:false,tickfont:{family:FONT,size:17.5,color:'#111'},ticklabelstandoff:3});

const layout={width:W,height:H,margin:{l:0,r:0,t:0,b:0,pad:0,autoexpand:false},autosize:false,showlegend:false,hovermode:false,paper_bgcolor:'#fff',plot_bgcolor:'rgba(0,0,0,0)',font:{family:FONT},
 xaxis:Object.assign({domain:[0,1],range:[0,W],anchor:'y'},off),
 yaxis:Object.assign({domain:[0,1],range:[H,0],anchor:'x'},off),
 xaxis2:mx(domX(65.9,459.7),[.79,6.197],'y2'),
 yaxis2:my(domY(55,407.3),[-4.47,8.48],'x2',true),
 xaxis3:mx(domX(477.4,873.3),[.8,6.2],'y3'),
 yaxis3:my(domY(55,409.3),[-4.47,8.48],'x3',false),
 xaxis4:mx(domX(894.5,1288.8),[.8,6.2],'y4'),
 yaxis4:my(domY(55.3,408.7),[-4.47,8.47],'x4',false),
 xaxis5:Object.assign({domain:domX(66,276.7),range:[-.5,11.5],anchor:'y5'},off),
 yaxis5:{domain:domY(891.7,1858.7),anchor:'x5',side:'right',type:'category',autorange:'reversed',tickmode:'array',tickvals:heatGenes,ticktext:heatGenes,ticks:'',showgrid:false,zeroline:false,showline:false,tickfont:{family:FONT,size:17.8,color:'#111'},ticklabelstandoff:-1},
 xaxis6:Object.assign({domain:domX(846,947),range:[-.574,2.525],anchor:'y6'},off),
 yaxis6:Object.assign({domain:domY(720.2,1835.4),range:[33.5,-.5],anchor:'x6'},off),
 xaxis9:Object.assign({domain:domX(846,947),range:[0,1],anchor:'y9'},off),
 yaxis9:{domain:domY(724.4,1835.2),range:[33.5,-.5],anchor:'x9',tickmode:'array',tickvals:geneSets.map((s,i)=>i),ticktext:geneSets,ticks:'',showgrid:false,zeroline:false,showline:false,tickfont:{family:FONT,size:18.4,color:'#111'}},
 xaxis7:{domain:domX(949.6,1312.5),anchor:'y7',type:'category',tickmode:'array',tickvals:edgeGenes,ticktext:edgeGenes,tickangle:-90,ticks:'',showgrid:false,zeroline:false,tickfont:{family:FONT,size:18,color:'#111'},ticklabelstandoff:3},
 yaxis7:Object.assign({domain:domY(717.8,1836.2),anchor:'x7',type:'category',autorange:'reversed'},off),
 xaxis8:Object.assign({domain:domX(1075.2,1145.2),range:[-.5,1.5],anchor:'y8'},off),
 yaxis8:Object.assign({domain:domY(590,700),range:[3.5,-.48],anchor:'x8'},off),
 shapes,annotations:annos};
Plotly.newPlot('plot',traces,layout,{displayModeBar:false,staticPlot:true});
</script></body></html>
